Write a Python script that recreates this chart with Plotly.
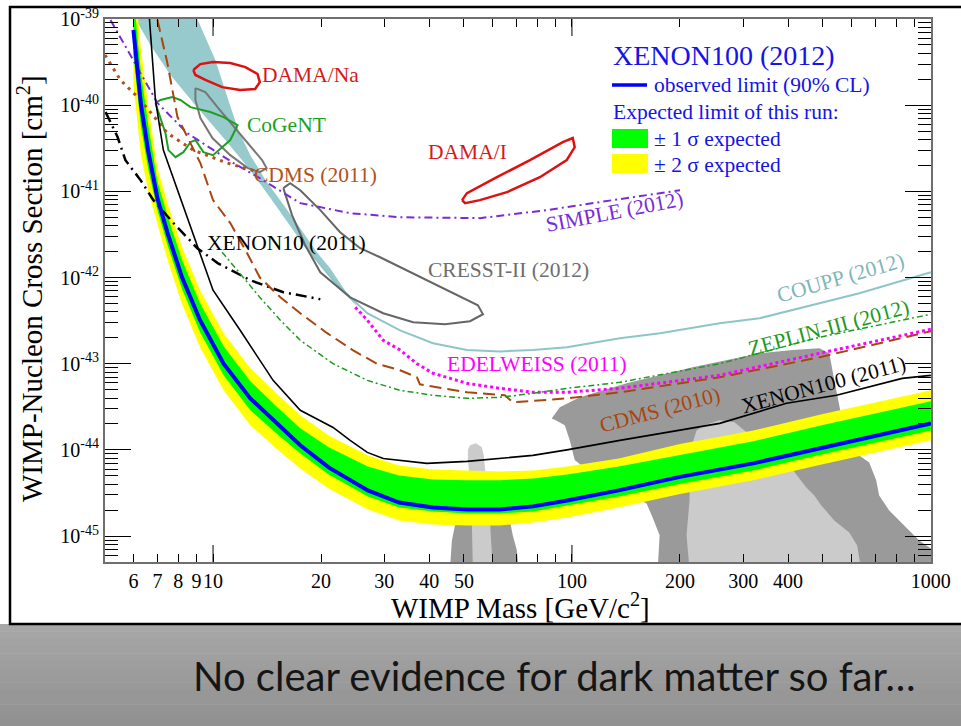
import math
import plotly.graph_objects as go

# ---------------- axis ranges / ticks ----------------
X_MIN, X_MAX = 5.0, 1000.0
Y_MIN, Y_MAX = 5.0e-46, 1.0e-39
x_ticks = [6, 7, 8, 9, 10, 20, 30, 40, 50, 100, 200, 300, 400, 1000]
x_ticktext = ["6", "7", "8", "9", "10", "20", "30", "40", "50", "100", "200", "300", "400", "1000"]
x_minor = [60, 70, 80, 90, 500, 600, 700, 800, 900]
y_decades = [-45, -44, -43, -42, -41, -40, -39]

# ---------------- XENON100 (2012) ----------------
x100_mass = [6.0, 6.3, 6.6, 7.0, 7.5, 8.2, 9.2, 10.7, 12.7, 15, 17.5, 21, 27, 33, 41, 51, 63, 78, 97, 135, 200, 320, 500, 1000]
x100_obs = [7.45e-40, 1.0e-40, 2.9e-41, 8.3e-42, 3.1e-42, 1.0e-42, 3.2e-43, 1.0e-43, 3.96e-44, 2.03e-44, 1.13e-44, 6.27e-45,
            3.39e-45, 2.45e-45, 2.15e-45, 2.04e-45, 2.04e-45, 2.21e-45, 2.59e-45, 3.39e-45, 4.86e-45, 6.97e-45, 1.07e-44, 2.03e-44]
x100_2s_hi = [3.71e-39, 4.36e-40, 9.8e-41, 1.86e-41, 6.92e-42, 2.25e-42, 7.13e-43, 2.26e-43, 8.85e-44, 4.53e-44, 2.52e-44, 1.47e-44,
              8.63e-45, 6.6e-45, 5.94e-45, 5.78e-45, 5.62e-45, 5.78e-45, 6.43e-45, 7.96e-45, 1.17e-44, 1.68e-44, 2.60e-44, 4.91e-44]
x100_1s_hi = [1.90e-39, 2.36e-40, 5.87e-41, 1.31e-41, 4.89e-42, 1.59e-42, 5.04e-43, 1.59e-43, 6.25e-44, 3.20e-44, 1.78e-44, 1.07e-44,
              6.43e-45, 5.06e-45, 4.54e-45, 4.43e-45, 4.43e-45, 4.67e-45, 5.19e-45, 6.43e-45, 8.75e-45, 1.26e-44, 1.94e-44, 3.66e-44]
x100_1s_lo = [3.82e-40, 5.57e-41, 1.81e-41, 6.05e-42, 2.25e-42, 7.31e-43, 2.32e-43, 7.33e-44, 2.88e-44, 1.56e-44, 9.1e-45, 5.19e-45,
              2.88e-45, 2.15e-45, 1.93e-45, 1.83e-45, 1.83e-45, 1.93e-45, 2.27e-45, 2.88e-45, 4.03e-45, 5.78e-45, 8.91e-45, 1.68e-44]
x100_2s_lo = [1.71e-40, 2.63e-41, 1.0e-41, 4.05e-42, 1.51e-42, 4.90e-43, 1.55e-43, 4.91e-44, 1.93e-44, 1.04e-44, 6.1e-45, 3.57e-45,
              2.04e-45, 1.52e-45, 1.36e-45, 1.33e-45, 1.33e-45, 1.44e-45, 1.64e-45, 2.15e-45, 3.08e-45, 4.43e-45, 6.82e-45, 1.29e-44]

# ---------------- other limits ----------------
x100_2011_mass = [6.65, 6.91, 7.27, 7.96, 9.04, 10.0, 11.9, 14.7, 17.5, 21.6, 24.1, 26.9, 29.8, 39.4, 51.0, 63, 77.8, 96.8, 136, 258, 396, 546, 832, 1000]
x100_2011_sig = [1.0e-39, 1.15e-40, 3.01e-41, 1.03e-41, 2.25e-42, 7.13e-43, 2.44e-43, 6.41e-44, 2.88e-44, 1.82e-44, 1.29e-44, 9.35e-45,
                 7.96e-45, 6.97e-45, 7.35e-45, 7.96e-45, 8.63e-45, 1.0e-44, 1.29e-44, 2.03e-44, 3.47e-44, 4.30e-44, 6.76e-44, 7.33e-44]

x10_mass = [5.02, 5.42, 5.70, 6.28, 6.82, 7.76, 9.04, 10.3, 12.7, 15.7, 19.9]
x10_sig = [8.32e-41, 4.27e-41, 2.30e-41, 1.35e-41, 7.91e-42, 4.28e-42, 2.19e-42, 1.47e-42, 9.31e-43, 6.75e-43, 5.60e-43]

cdms11_mass = [5.0, 5.52, 6.28, 7.46, 8.81, 10.96, 13.1]
cdms11_sig = [3.82e-40, 1.96e-40, 1.15e-40, 4.74e-41, 3.01e-41, 2.13e-41, 1.72e-41]

simple_mass = [5.18, 6.0, 7.0, 8.48, 11.4, 13.5, 17.5, 24.1, 33.2, 55.4, 85, 130, 200]
simple_sig = [9.74e-40, 3.34e-40, 1.06e-40, 4.74e-41, 2.13e-41, 1.42e-41, 7.3e-42, 5.58e-42, 5.01e-42, 4.89e-42, 6.05e-42, 7.91e-42, 1.03e-41]

cdms10_mass = [7.0, 7.46, 7.96, 8.65, 9.22, 10.0, 11.17, 12.45, 13.5, 15.4, 17.5, 20.8, 24.5, 28.6, 33.2, 37.0, 37.7, 51.0, 65, 68.5, 96.8, 136, 258, 490, 1000]
cdms10_sig = [9.74e-40, 3.08e-40, 7.28e-41, 3.63e-41, 2.13e-41, 7.91e-42, 4.28e-42, 1.91e-42, 1.0e-42, 5.9e-43, 3.85e-43, 2.26e-43,
              1.44e-43, 1.0e-43, 8.38e-44, 6.95e-44, 5.77e-44, 4.66e-44, 4.30e-44, 3.56e-44, 3.96e-44, 4.66e-44, 6.95e-44, 1.19e-43, 2.38e-43]

edel_mass = [24.9, 26.9, 29.8, 33.2, 37.0, 41.0, 51.0, 63, 77.8, 96.8, 136, 258, 490, 1000]
edel_sig = [4.52e-43, 3.20e-43, 1.87e-43, 1.44e-43, 1.0e-43, 7.75e-44, 5.92e-44, 5.18e-44, 4.66e-44, 4.66e-44, 5.18e-44, 7.33e-44, 1.32e-43, 2.51e-43]

zeplin_mass = [10.6, 11.9, 13.5, 15.4, 17.5, 21.6, 26.9, 33.2, 41.0, 51.0, 63, 77.8, 96.8, 136, 258, 490, 1000]
zeplin_sig = [1.97e-42, 1.12e-42, 5.9e-43, 3.2e-43, 1.87e-43, 1.0e-43, 6.41e-44, 4.91e-44, 4.30e-44, 3.96e-44, 4.07e-44, 4.53e-44,
              5.18e-44, 6.08e-44, 1.0e-43, 2.03e-43, 3.75e-43]

coupp_mass = [17.5, 21.6, 24.1, 26.9, 33.2, 41.0, 51.0, 63, 77.8, 96.8, 136, 176, 258, 333, 632, 1000]
coupp_sig = [2.71e-42, 9.31e-43, 5.9e-43, 3.85e-43, 2.44e-43, 1.73e-43, 1.44e-43, 1.39e-43, 1.44e-43, 1.55e-43, 1.97e-43, 2.26e-43,
             2.94e-43, 3.37e-43, 6.58e-43, 1.15e-42]
coupp_band_mass = [6.08, 6.69, 7.61, 8.93, 10.82, 12.7, 14.4, 16.4, 17.5, 21.6, 24.9,
                   25.4, 23.3, 21.2, 19.25, 17.5, 15.6, 14.0, 12.7, 11.76, 11.03, 10.15, 9.04]
coupp_band_sig = [1.0e-39, 4.99e-40, 2.24e-40, 1.0e-40, 3.94e-41, 1.76e-41, 8.57e-42, 4.05e-42, 2.71e-42, 9.31e-43, 4.76e-43,
                  4.39e-43, 7.13e-43, 1.28e-42, 2.08e-42, 3.74e-42, 7.3e-42, 1.35e-41, 2.63e-41, 5.14e-41, 1.15e-40, 3.34e-40, 1.0e-39]

# ---------------- signal claims ----------------
cresst_mass = [15.7, 16.6, 18.06, 19.9, 24.1, 29.8, 36.1, 44.3, 52.0, 56.5, 54.7, 44.9, 36.1, 29.2, 25.7, 22.6, 19.9, 17.5, 16.4, 15.7]
cresst_sig = [1.09e-41, 5.3e-42, 2.37e-42, 1.15e-42, 5.9e-43, 3.85e-43, 3.03e-43, 2.87e-43, 3.11e-43, 3.75e-43, 4.76e-43, 7.13e-43,
              1.12e-42, 1.72e-42, 2.19e-42, 3.36e-42, 6.05e-42, 1.03e-41, 1.24e-41, 1.09e-41]
cresst2_mass = [8.93, 9.52, 10.34, 11.53, 12.7, 13.7, 14.1, 13.5, 12.5, 11.17, 9.96, 9.22, 8.93, 8.93]
cresst2_sig = [1.58e-40, 1.42e-40, 9.25e-41, 5.42e-41, 3.44e-41, 2.30e-41, 1.86e-41, 1.67e-41, 1.86e-41, 2.63e-41, 4.15e-41, 7.08e-41, 1.15e-40, 1.58e-40]
damana_mass = [8.81, 9.22, 10.0, 11.17, 12.3, 13.3, 13.5, 13.1, 11.9, 10.6, 9.52, 8.93, 8.81]
damana_sig = [2.56e-40, 3.0e-40, 3.17e-40, 3.08e-40, 2.77e-40, 2.30e-40, 1.85e-40, 1.54e-40, 1.50e-40, 1.62e-40, 1.96e-40, 2.24e-40, 2.56e-40]
damai_mass = [49.4, 51.0, 61.8, 76.4, 94.3, 100.5, 101.8, 96.7, 81.4, 65.9, 55.4, 50.4, 49.4]
damai_sig = [7.91e-42, 9.53e-42, 1.46e-41, 2.30e-41, 3.72e-41, 4.15e-41, 3.26e-41, 2.30e-41, 1.46e-41, 9.79e-42, 7.91e-42, 7.3e-42, 7.91e-42]
cogent_mass = [6.91, 7.14, 7.70, 8.11, 8.65, 9.83, 10.7, 11.7, 11.17, 10.0, 9.40, 8.93, 8.65, 8.27, 7.86, 7.51, 7.37, 7.04, 6.91]
cogent_sig = [1.06e-40, 1.15e-40, 1.24e-40, 1.15e-40, 9.5e-41, 8.32e-41, 7.28e-41, 5.87e-41, 3.94e-41, 2.63e-41, 2.85e-41, 3.94e-41,
              3.72e-41, 2.85e-41, 2.49e-41, 3.01e-41, 4.74e-41, 8.09e-41, 1.06e-40]

# ---------------- CMSSM regions ----------------
cmssm2_a_mass = [45.7, 46.3, 47.2, 48.1, 49.4, 65.0, 66.3, 68.4, 70.2, 71.1]
cmssm2_a_sig = [4.0e-46, 8.89e-46, 1.33e-45, 2.27e-45, 2.96e-45, 2.96e-45, 1.98e-45, 1.02e-45, 6.88e-46, 4.0e-46]
cmssm1_a_mass = [51.3, 52.0, 54.0, 56.1, 56.8, 57.6, 59.1, 60.2, 52.97, 52.6, 52.0, 51.3]
cmssm1_a_sig = [1.0e-44, 1.13e-44, 1.19e-44, 1.07e-44, 8.63e-45, 4.43e-45, 1.52e-45, 4.0e-46, 4.0e-46, 1.52e-45, 4.43e-45, 7.65e-45]
cmssm2_b_mass = [173.3, 175.5, 167.8, 161.4, 119.5, 101.8, 98.6, 95.5, 90.1, 87.8, 92.5, 105.1, 142.1, 216.8, 333.1, 411.4, 488.9,
                 521.2, 538.2, 555.7, 573.7, 631.7, 673.3, 704.2, 717.8, 765.5, 842.7, 927.8, 1000, 1100]
cmssm2_b_sig = [4.0e-46, 1.02e-45, 1.64e-45, 2.39e-45, 4.43e-45, 7.65e-45, 1.29e-44, 1.93e-44, 2.20e-44, 2.32e-44, 3.12e-44, 4.07e-44,
                5.92e-44, 9.08e-44, 1.32e-43, 1.44e-43, 1.51e-43, 1.32e-43, 6.41e-44, 3.29e-44, 1.68e-44, 8.63e-45, 7.16e-45,
                4.43e-45, 2.96e-45, 1.98e-45, 1.33e-45, 8.89e-46, 7.18e-46, 4.0e-46]
cmssm1_b_mass = [212.7, 222.4, 234.1, 257.6, 283.6, 302.4, 333.1, 403.5, 449.8, 473.5, 495.1, 538.2, 592.4, 623.5, 639.7, 212.7, 208.6, 212.7]
cmssm1_b_sig = [9.35e-45, 1.68e-44, 1.93e-44, 2.20e-44, 2.09e-44, 1.68e-44, 1.26e-44, 6.6e-45, 3.66e-45, 2.96e-45, 2.27e-45, 1.52e-45,
                1.10e-45, 7.78e-46, 4.0e-46, 4.0e-46, 1.02e-45, 2.61e-45]

# ---------------- helpers (pixel layout only) ----------------
W, H = 961, 726
ML, MR, MT, MB = 105, 30, 19, 164
PW, PH = W - ML - MR, H - MT - MB


def px(x, y):
    return (x - ML) / PW, (H - MB - y) / PH


SERIF = "Liberation Serif"
fig = go.Figure()


def poly(xs, ys, color):
    fig.add_trace(go.Scatter(x=xs, y=ys, mode="lines", fill="toself", fillcolor=color,
                             line=dict(width=0, color=color), hoverinfo="skip"))


def line(xs, ys, color, width, dash="solid"):
    fig.add_trace(go.Scatter(x=xs, y=ys, mode="lines", line=dict(color=color, width=width, dash=dash),
                             hoverinfo="skip"))


# CMSSM regions
poly(cmssm2_a_mass, cmssm2_a_sig, "#9a9a9a")
poly(cmssm2_b_mass, cmssm2_b_sig, "#9a9a9a")
poly(cmssm1_a_mass, cmssm1_a_sig, "#cbcbcb")
poly(cmssm1_b_mass, cmssm1_b_sig, "#cbcbcb")

# COUPP shaded band
poly(coupp_band_mass, coupp_band_sig, "#97cacc")

# XENON100 (2012) expected bands
poly(x100_mass + x100_mass[::-1], x100_2s_hi + x100_2s_lo[::-1], "#ffff00")
poly(x100_mass + x100_mass[::-1], x100_1s_hi + x100_1s_lo[::-1], "#00ff00")

# limits
line(coupp_mass, coupp_sig, "#8ec5c8", 2)
line(cresst_mass, cresst_sig, "#666666", 2)
line(cresst2_mass, cresst2_sig, "#777777", 2)
line(damana_mass, damana_sig, "#dd1111", 2.5)
line(damai_mass, damai_sig, "#dd1111", 2.5)
line(cogent_mass, cogent_sig, "#1f9f1f", 2)
line(simple_mass, simple_sig, "#7a2bd6", 2, "8px,4px,2px,4px")
line(cdms11_mass, cdms11_sig, "#b0521c", 3, "3px,5px")
line(x10_mass, x10_sig, "black", 2.5, "11px,5px,2px,5px")
line(cdms10_mass, cdms10_sig, "#a8460f", 2, "12px,6px")
line(edel_mass, edel_sig, "#ff00ff", 3, "3px,3px")
line(zeplin_mass, zeplin_sig, "#1e9a1e", 1.5, "6px,3px,2px,3px")
line(x100_2011_mass, x100_2011_sig, "black", 1.6)
line(x100_mass, x100_obs, "#0000ff", 4)

# ---------------- axes ----------------
y_tickvals = [10.0 ** e for e in y_decades]
y_ticktext = ["10<sup>%d</sup>" % e for e in y_decades]
y_minor = [k * 10.0 ** e for e in range(-46, -39) for k in range(2, 10) if Y_MIN <= k * 10.0 ** e <= Y_MAX]

X_RANGE = [math.log10(X_MIN), math.log10(X_MAX) + 0.0004]
fig.update_xaxes(type="log", range=X_RANGE, tickvals=x_ticks, ticktext=x_ticktext, tickangle=0,
                 ticks="inside", ticklen=8, tickcolor="black", tickwidth=1,
                 minor=dict(tickvals=x_minor, ticks="inside", ticklen=8, tickcolor="black", tickwidth=1),
                 showline=True, linecolor="#6f6f6f", linewidth=2, mirror="allticks", showgrid=False, zeroline=False,
                 tickfont=dict(size=20, family=SERIF, color="black"))
fig.update_yaxes(type="log", range=[math.log10(Y_MIN), math.log10(Y_MAX)], tickvals=y_tickvals, ticktext=y_ticktext,
                 tickangle=0, ticks="inside", ticklen=26, tickcolor="black", tickwidth=1,
                 minor=dict(tickvals=y_minor, ticks="inside", ticklen=13, tickcolor="black", tickwidth=1),
                 showline=True, linecolor="#6f6f6f", linewidth=2, mirror="allticks", showgrid=False, zeroline=False,
                 tickfont=dict(size=20, family=SERIF, color="black"))

shapes = []
# long decade ticks on the x axis (bottom and top)
for v in (10, 100):
    xp = (math.log10(v) - X_RANGE[0]) / (X_RANGE[1] - X_RANGE[0])
    shapes.append(dict(type="line", xref="paper", yref="paper", x0=xp, x1=xp, y0=0, y1=17 / PH,
                       line=dict(color="black", width=1)))
    shapes.append(dict(type="line", xref="paper", yref="paper", x0=xp, x1=xp, y0=1 - 17 / PH, y1=1,
                       line=dict(color="black", width=1)))

# banner at the bottom (slide)
n = 14
for i in range(n):
    y0p = 624 + (726 - 624) * i / n
    y1p = 624 + (726 - 624) * (i + 1) / n
    g = int(167 - 22 * i / (n - 1))
    shapes.append(dict(type="rect", xref="paper", yref="paper", layer="below",
                       x0=px(0, 0)[0], x1=px(W, 0)[0], y0=px(0, y1p + 0.5)[1], y1=px(0, y0p)[1],
                       line=dict(width=0), fillcolor="rgb(%d,%d,%d)" % (g, g, g)))

# black frame of the picture (its right side lies beyond the visible page)
fx0, fy0 = px(10, 624)
fx1, fy1 = px(975, 7)
shapes.append(dict(type="rect", xref="paper", yref="paper", x0=fx0, x1=fx1, y0=fy0, y1=fy1,
                   line=dict(color="black", width=2.5), fillcolor="rgba(0,0,0,0)"))

# legend symbols
lx0, ly = px(612, 85)
lx1, _ = px(647, 85)
shapes.append(dict(type="line", xref="paper", yref="paper", x0=lx0, x1=lx1, y0=ly, y1=ly,
                   line=dict(color="#0000ff", width=3.5)))
gx0, gy0 = px(612, 148)
gx1, gy1 = px(648, 129)
shapes.append(dict(type="rect", xref="paper", yref="paper", x0=gx0, x1=gx1, y0=gy0, y1=gy1,
                   line=dict(width=0), fillcolor="#00ff00"))
yx0, yy0 = px(612, 173)
yx1, yy1 = px(648, 154)
shapes.append(dict(type="rect", xref="paper", yref="paper", x0=yx0, x1=yx1, y0=yy0, y1=yy1,
                   line=dict(width=0), fillcolor="#ffff00"))

annotations = []


def label(text, x, y, color, size=21.5, angle=0, anchor="center", family=SERIF):
    xp, yp = px(x, y)
    annotations.append(dict(text=text, x=xp, y=yp, xref="paper", yref="paper", showarrow=False,
                            xanchor=anchor, yanchor="middle", textangle=angle,
                            font=dict(family=family, size=size, color=color)))


LB = "#1414e6"
label("XENON100 (2012)", 611, 55, LB, 28, anchor="left")
label("observed limit (90% CL)", 652, 85, LB, 21.5, anchor="left")
label("Expected limit of this run:", 611, 112, LB, 21.5, anchor="left")
label("± 1 σ expected", 652, 139, LB, 21.5, anchor="left")
label("± 2 σ expected", 652, 165, LB, 21.5, anchor="left")

label("DAMA/Na", 310, 75, "#d41a1a")
label("CoGeNT", 286, 125, "#1f9f1f")
label("DAMA/I", 467, 152, "#d41a1a")
label("CDMS (2011)", 315, 175, "#b0521c")
label("SIMPLE (2012)", 614, 212, "#7a2bd6", angle=-11)
label("XENON10 (2011)", 286, 243, "black")
label("CRESST-II (2012)", 508, 270, "#6e6e6e")
label("COUPP (2012)", 840, 278, "#7fb6b9", angle=-16)
label("ZEPLIN-III (2012)", 828, 328, "#1e9a1e", angle=-15)
label("EDELWEISS (2011)", 537, 364, "#ff00ff")
label("CDMS (2010)", 660, 410, "#a8460f", angle=-15)
label("XENON100 (2011)", 823, 385, "black", angle=-15)

# axis titles
label("WIMP Mass [GeV/c<sup>2</sup>]", 520, 606, "black", 29)
xp, yp = px(30, 289)
annotations.append(dict(text="WIMP-Nucleon Cross Section [cm<sup>2</sup>]", x=xp, y=yp, xref="paper", yref="paper",
                        showarrow=False, textangle=-90, xanchor="center", yanchor="middle",
                        font=dict(family=SERIF, size=29, color="black")))

# slide caption
label("No clear evidence for dark matter so far…", 554, 676, "#151515", 40, family="Lato")

fig.update_layout(width=W, height=H, margin=dict(l=ML, r=MR, t=MT, b=MB, autoexpand=False),
                  paper_bgcolor="white", plot_bgcolor="white", showlegend=False,
                  shapes=shapes, annotations=annotations, hovermode=False)

fig.write_html("out.html", config={"displayModeBar": False},
               post_script="document.body.style.margin='0';document.body.style.overflow='hidden';")
